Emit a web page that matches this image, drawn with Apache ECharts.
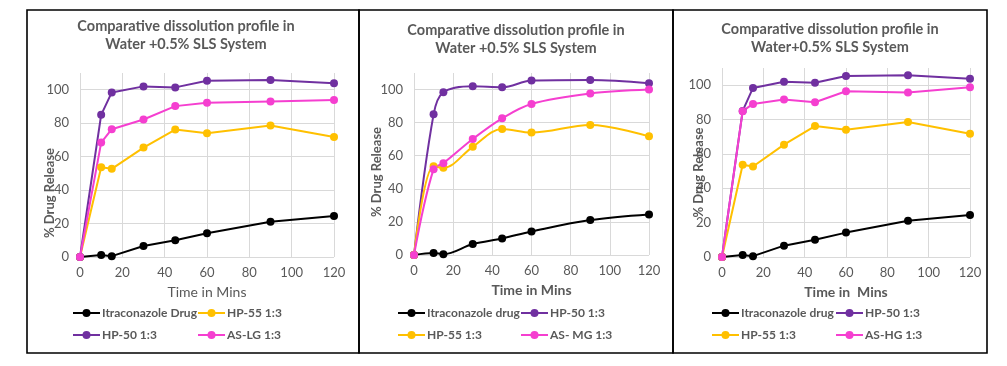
<!DOCTYPE html>
<html>
<head>
<meta charset="utf-8">
<script src="https://cdn.jsdelivr.net/npm/echarts@6/dist/echarts.min.js"></script>
<style>
html,body{margin:0;padding:0;background:#fff;}
#c{width:1007px;height:366px;}
</style>
</head>
<body>
<div id="c"></div>
<script>
// ---- data ----
const time = [0, 10, 15, 30, 45, 60, 90, 120];
const itraconazole = [0, 1.2, 0.5, 6.6, 10, 14.2, 21.1, 24.5];
const hp50 = [0, 85, 98.4, 102, 101.4, 105.4, 105.8, 103.8];
const hp55 = [0, 53.7, 52.7, 65.4, 76.2, 74, 78.6, 71.7];
const asLG = [0, 68.4, 76.4, 82.2, 90.2, 92.2, 93, 93.8];
const asMG = [0, 51.9, 55.5, 70.1, 82.6, 91.3, 97.6, 100];
const asHG = [0, 84.9, 89.1, 91.7, 90.1, 96.5, 95.7, 98.8];
const xTicks = [0, 20, 40, 60, 80, 100, 120];
const yTicks = [0, 20, 40, 60, 80, 100];
const titles = [
  'Comparative dissolution profile in\nWater +0.5% SLS System',
  'Comparative dissolution profile in\nWater +0.5% SLS System',
  'Comparative dissolution profile in\nWater+0.5% SLS System'
];
const xNames = ['Time in Mins', 'Time in Mins', 'Time in  Mins'];
const yName = '% Drug Release';
const names1 = ['Itraconazole Drug', 'HP-55 1:3', 'HP-50 1:3', 'AS-LG 1:3'];
const names2 = ['Itraconazole drug', 'HP-50 1:3', 'HP-55 1:3', 'AS- MG 1:3'];
const names3 = ['Itraconazole drug', 'HP-50 1:3', 'HP-55 1:3', 'AS-HG 1:3'];

// ---- style ----
const FONT = 'Lato, "Open Sans", sans-serif';
const C = {black: '#000000', yellow: '#FFC000', purple: '#7030A0', pink: '#F53FD0'};
const grid = '#d9d9d9';
const txt = '#595959';

const pair = ys => time.map((t, i) => [t, ys[i]]);

const panels = [
  {grid: {left: 80, top: 73, width: 254, height: 184}, titleX: 186, titleY: 17, xBold: 'normal', yGap: 24, yShift: 28,
   series: [[names1[0], itraconazole, C.black], [names1[1], hp55, C.yellow], [names1[2], hp50, C.purple], [names1[3], asLG, C.pink]],
   smooth: false, legX: [72, 197], names: names1},
  {grid: {left: 414, top: 73, width: 235, height: 182}, titleX: 516, titleY: 21, xBold: 'bold', yGap: 31, yShift: 8,
   series: [[names2[0], itraconazole, C.black], [names2[1], hp50, C.purple], [names2[2], hp55, C.yellow], [names2[3], asMG, C.pink]],
   smooth: 0.35, legX: [397, 520], names: names2},
  {grid: {left: 722, top: 68, width: 248, height: 189}, titleX: 830, titleY: 20, xBold: 'bold', yGap: 17, yShift: 10,
   series: [[names3[0], itraconazole, C.black], [names3[1], hp50, C.purple], [names3[2], hp55, C.yellow], [names3[3], asHG, C.pink]],
   smooth: false, legX: [711, 835], names: names3}
];

const option = {
  backgroundColor: '#fff',
  animation: false,
  textStyle: {fontFamily: FONT},
  title: [], grid: [], xAxis: [], yAxis: [], series: [], legend: [],
  graphic: []
};

const borders = [[27, 359], [359, 673], [673, 987]];
borders.forEach(b => {
  option.graphic.push({type: 'rect', shape: {x: b[0], y: 10, width: b[1] - b[0], height: 343},
    style: {fill: 'none', stroke: '#000', lineWidth: 1.6}, silent: true, z: 100});
});

panels.forEach((p, k) => {
  option.title.push({text: titles[k], left: p.titleX, top: p.titleY, textAlign: 'center', padding: 0,
    textStyle: {fontFamily: FONT, fontSize: 14.5, fontWeight: 'bold', color: txt, lineHeight: 18}});
  option.grid.push(Object.assign({containLabel: false}, p.grid));
  option.xAxis.push({type: 'value', gridIndex: k, min: xTicks[0], max: xTicks[xTicks.length - 1], interval: xTicks[1] - xTicks[0],
    name: xNames[k], nameLocation: 'middle', nameGap: 28, nameMoveOverlap: false,
    nameTextStyle: {fontFamily: FONT, fontSize: 14, fontWeight: p.xBold, color: txt},
    axisLine: {show: false}, axisTick: {show: false},
    axisLabel: {fontFamily: FONT, fontSize: 13, color: txt, margin: 9},
    splitLine: {show: true, lineStyle: {color: grid, width: 1}}});
  option.yAxis.push({type: 'value', gridIndex: k, min: 0, max: 110, interval: yTicks[1] - yTicks[0],
    name: yName, nameLocation: 'middle', nameGap: p.yGap, nameRotate: 90, nameMoveOverlap: false,
    nameTextStyle: {fontFamily: FONT, fontSize: 13, fontWeight: 'bold', color: txt, padding: [0, p.yShift * 2, 0, 0]},
    axisLine: {show: false}, axisTick: {show: false},
    axisLabel: {fontFamily: FONT, fontSize: 13, color: txt, margin: 11, showMaxLabel: false},
    splitLine: {show: true, lineStyle: {color: [grid, grid, grid, grid, grid, grid, 'rgba(0,0,0,0)'], width: 1}}});
  p.series.forEach(s => {
    option.series.push({type: 'line', name: s[0], xAxisIndex: k, yAxisIndex: k, data: pair(s[1]),
      smooth: p.smooth, symbol: 'circle', symbolSize: 8, showSymbol: true,
      lineStyle: {color: s[2], width: 2}, itemStyle: {color: s[2]}});
  });
  const rows = [314, 336];
  p.names.forEach((n, i) => {
    option.legend.push({data: [n], left: p.legX[i % 2], top: rows[Math.floor(i / 2)] - 7,
      itemWidth: 27, itemHeight: 10, itemGap: 0, padding: 0, selectedMode: false,
      textStyle: {fontFamily: FONT, fontSize: 12, fontWeight: 'bold', color: txt, padding: [0, 0, 0, -3]}});
  });
});

const chart = echarts.init(document.getElementById('c'), null, {renderer: 'canvas'});
chart.setOption(option);
</script>
</body>
</html>
